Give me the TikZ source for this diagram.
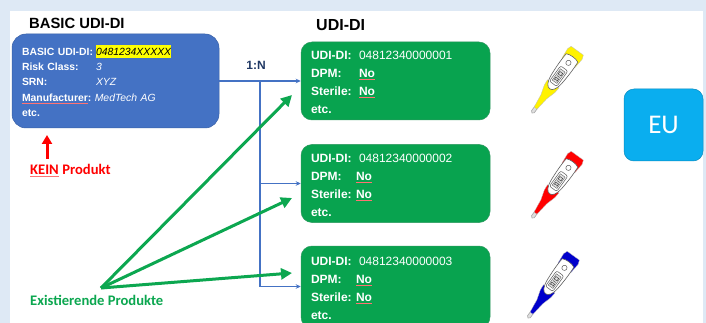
\documentclass[tikz,border=0pt]{standalone}
\usepackage{fontspec}
\setmainfont{Liberation Sans}
\newfontfamily\calib{Carlito}
\usetikzlibrary{arrows.meta}
\definecolor{pageblue}{HTML}{DEE9F5}
\definecolor{boxblue}{HTML}{4472C4}
\definecolor{boxgreen}{HTML}{08A34F}
\definecolor{arrowgreen}{HTML}{0CA750}
\definecolor{eublue}{HTML}{0AAEEF}
\definecolor{darknavy}{HTML}{203864}
\definecolor{hiyellow}{HTML}{FFFF00}
\newcommand{\spl}[1]{\leavevmode\setbox0\hbox{#1}\rlap{\raisebox{-2pt}{\color{red!55!white}\rule{\wd0}{0.5pt}}}\box0}
\newcommand{\lab}[2]{\makebox[#1][l]{#2}}
\newcommand{\hilite}[1]{{\setlength{\fboxsep}{0pt}\colorbox{hiyellow}{\rule[-3pt]{0pt}{13pt}\textcolor{black}{\mdseries\itshape #1}}}}
\tikzset{
  page/.style={fill=pageblue,draw=none},
  sheet/.style={fill=white,draw=none},
  basicbox/.style={draw=boxblue!85!black,line width=.5pt,fill=boxblue,rounded corners=14pt,minimum width=207pt,minimum height=94pt,
    text=white,align=left,inner sep=0pt,font=\fontsize{10.4}{15.4}\selectfont\bfseries,text width=187pt},
  udibox/.style={draw=boxgreen!70!gray,line width=.5pt,fill=boxgreen,rounded corners=11pt,minimum width=189pt,minimum height=78pt,
    text=white,align=left,inner sep=0pt,font=\fontsize{12}{18}\selectfont\bfseries,text width=169pt},
  eubox/.style={draw=eublue!80!black,line width=.5pt,fill=eublue,rounded corners=10pt,minimum width=79pt,minimum height=72pt,
    text=white,font=\calib\fontsize{27}{30}\selectfont},
  heading/.style={font=\fontsize{14.8}{18}\selectfont\bfseries,text=black,inner sep=0pt},
  ratio/.style={font=\fontsize{12}{14}\selectfont\bfseries,text=darknavy,inner sep=0pt},
  note/.style={font=\calib\fontsize{14.6}{16}\selectfont\bfseries,inner sep=0pt},
  link/.style={draw=boxblue,line width=1.1pt},
  linkarrow/.style={link,-{Stealth[length=5pt,width=4.5pt]}},
  greenarrow/.style={draw=arrowgreen,line width=3pt,-{Triangle[length=11pt,width=11pt]}},
  redarrow/.style={draw=red,line width=3pt,-{Triangle[length=9pt,width=10pt]}},
  thermo/.pic={
    \path[fill=gray!25,draw=gray!70,line width=.6pt] (1.5,-1.7) -- (8,-1.7) -- (8,1.7) -- (1.5,1.7) .. controls (-.5,1.7) and (-.5,-1.7) .. (1.5,-1.7) -- cycle;
    \path[fill=#1,draw=gray!50,line width=.3pt] (6,-1.8) -- (20,-3.5) -- (30,-6.5) -- (36,-7) -- (36,7) -- (30,6.5) -- (20,3.5) -- (6,1.8) -- cycle;
    \path[fill=#1,draw=gray!50,line width=.3pt] (62,-8) -- (73,-9) -- (77,-7.5) -- (77,7.5) -- (73,9) -- (62,8) -- cycle;
    \path[fill=white,draw=gray!75!black,line width=.6pt] (30,0) .. controls (30,-3.5) and (34,-6) .. (42,-6.8) .. controls (52,-7.6) and (60,-7.8) .. (68,-7.2) .. controls (70,-4) and (70,4) .. (68,7.2) .. controls (60,7.8) and (52,7.6) .. (42,6.8) .. controls (34,6) and (30,3.5) .. cycle;
    \path[fill=white,draw=gray!70!black,line width=.5pt,rounded corners=2pt] (36,-4.6) rectangle (55,4.4);
    \path[fill=gray!25,draw=black!65,line width=.35pt] (38.5,-3) rectangle (52.5,2.8);
    \path[draw=black!80,line width=.45pt] (40,-1.8) -- (43,-1.8) -- (43,1.6) -- (40,1.6) (41,-1.8) -- (41,1.6) (45,-1.8) -- (45,1.6) (47,-1.8) -- (50,-1.8) -- (50,1.6) -- (47,1.6) -- cycle;
    \path[fill=white,draw=gray!70!black,line width=.5pt] (62,0) circle[radius=2.6];
  }
}
\begin{document}
\begin{tikzpicture}[x=1pt,y=-1pt]
\useasboundingbox (0,0) rectangle (706,323);
\path[page] (0,0) rectangle (706,323);
\path[sheet] (10,11) rectangle (703,323);

\node[heading,anchor=base west] (titleA) at (29,29) {BASIC UDI-DI};
\node[heading,font=\fontsize{16}{18}\selectfont\bfseries,anchor=base west] (titleB) at (316,31) {UDI-DI};

\node[basicbox] (basic) at (115.5,81) {%
\lab{74pt}{BASIC UDI-DI:}\hilite{0481234XXXXX}\\
\lab{74pt}{Risk Class:}{\mdseries\itshape 3}\\
\lab{74pt}{SRN:}{\mdseries\itshape XYZ}\\
\spl{Manufacturer}:\ {\mdseries\itshape MedTech AG}\\
etc.};

\node[udibox] (udiA) at (395.5,81) {%
\rule{0pt}{12pt}\lab{48pt}{UDI-DI:}{\mdseries 04812340000001}\\
\lab{48pt}{DPM:}\spl{No}\\
\lab{48pt}{Sterile:}\spl{No}\\
etc.};
\node[udibox] (udiB) at (395.5,183.5) {%
\rule{0pt}{12pt}\lab{48pt}{UDI-DI:}{\mdseries 04812340000002}\\
\lab{45pt}{DPM:}\spl{No}\\
\lab{45pt}{Sterile:}\spl{No}\\
etc.};
\node[udibox,minimum height=82pt] (udiC) at (395.5,287) {%
\rule{0pt}{12pt}\lab{48pt}{UDI-DI:}{\mdseries 04812340000003}\\
\lab{45pt}{DPM:}\spl{No}\\
\lab{45pt}{Sterile:}\spl{No}\\
etc.};
\node[eubox] (eu) at (663.5,125) {EU};

\node[ratio,anchor=base] (ratio) at (256,70) {1:N};
\node[note,text=red,anchor=base west] (kein) at (30,175) {\spl{KEIN}\hspace{3.5pt}Produkt};
\node[note,text=arrowgreen,anchor=base west] (exist) at (30,305) {Existierende Produkte};

\coordinate (split) at (260,81);
\coordinate (splitB) at (260,183.5);
\coordinate (splitC) at (260,286.5);
\draw[link] (basic.east |- split) -- (split);
\draw[link] (split) -- (splitC);
\draw[linkarrow] (split) -- (udiA.west |- split);
\draw[linkarrow] (splitB) -- (udiB.west |- splitB);
\draw[linkarrow] (splitC) -- (udiC.west |- splitC);

\coordinate (fan) at (101,288);
\coordinate (tipA) at (292,95);
\coordinate (tipB) at (292,198);
\coordinate (tipC) at (292,273);
\draw[greenarrow] (fan) -- (tipA);
\draw[greenarrow] (fan) -- (tipB);
\draw[greenarrow] (fan) -- (tipC);

\coordinate (redtail) at (47,159);
\draw[redarrow] (redtail) -- (47,135);

\pic[shift={(532,113)},rotate=54] {thermo=yellow};
\pic[shift={(532,218)},rotate=54] {thermo=red};
\pic[shift={(528,318)},rotate=54] {thermo=blue!80!black};
\end{tikzpicture}
\end{document}
